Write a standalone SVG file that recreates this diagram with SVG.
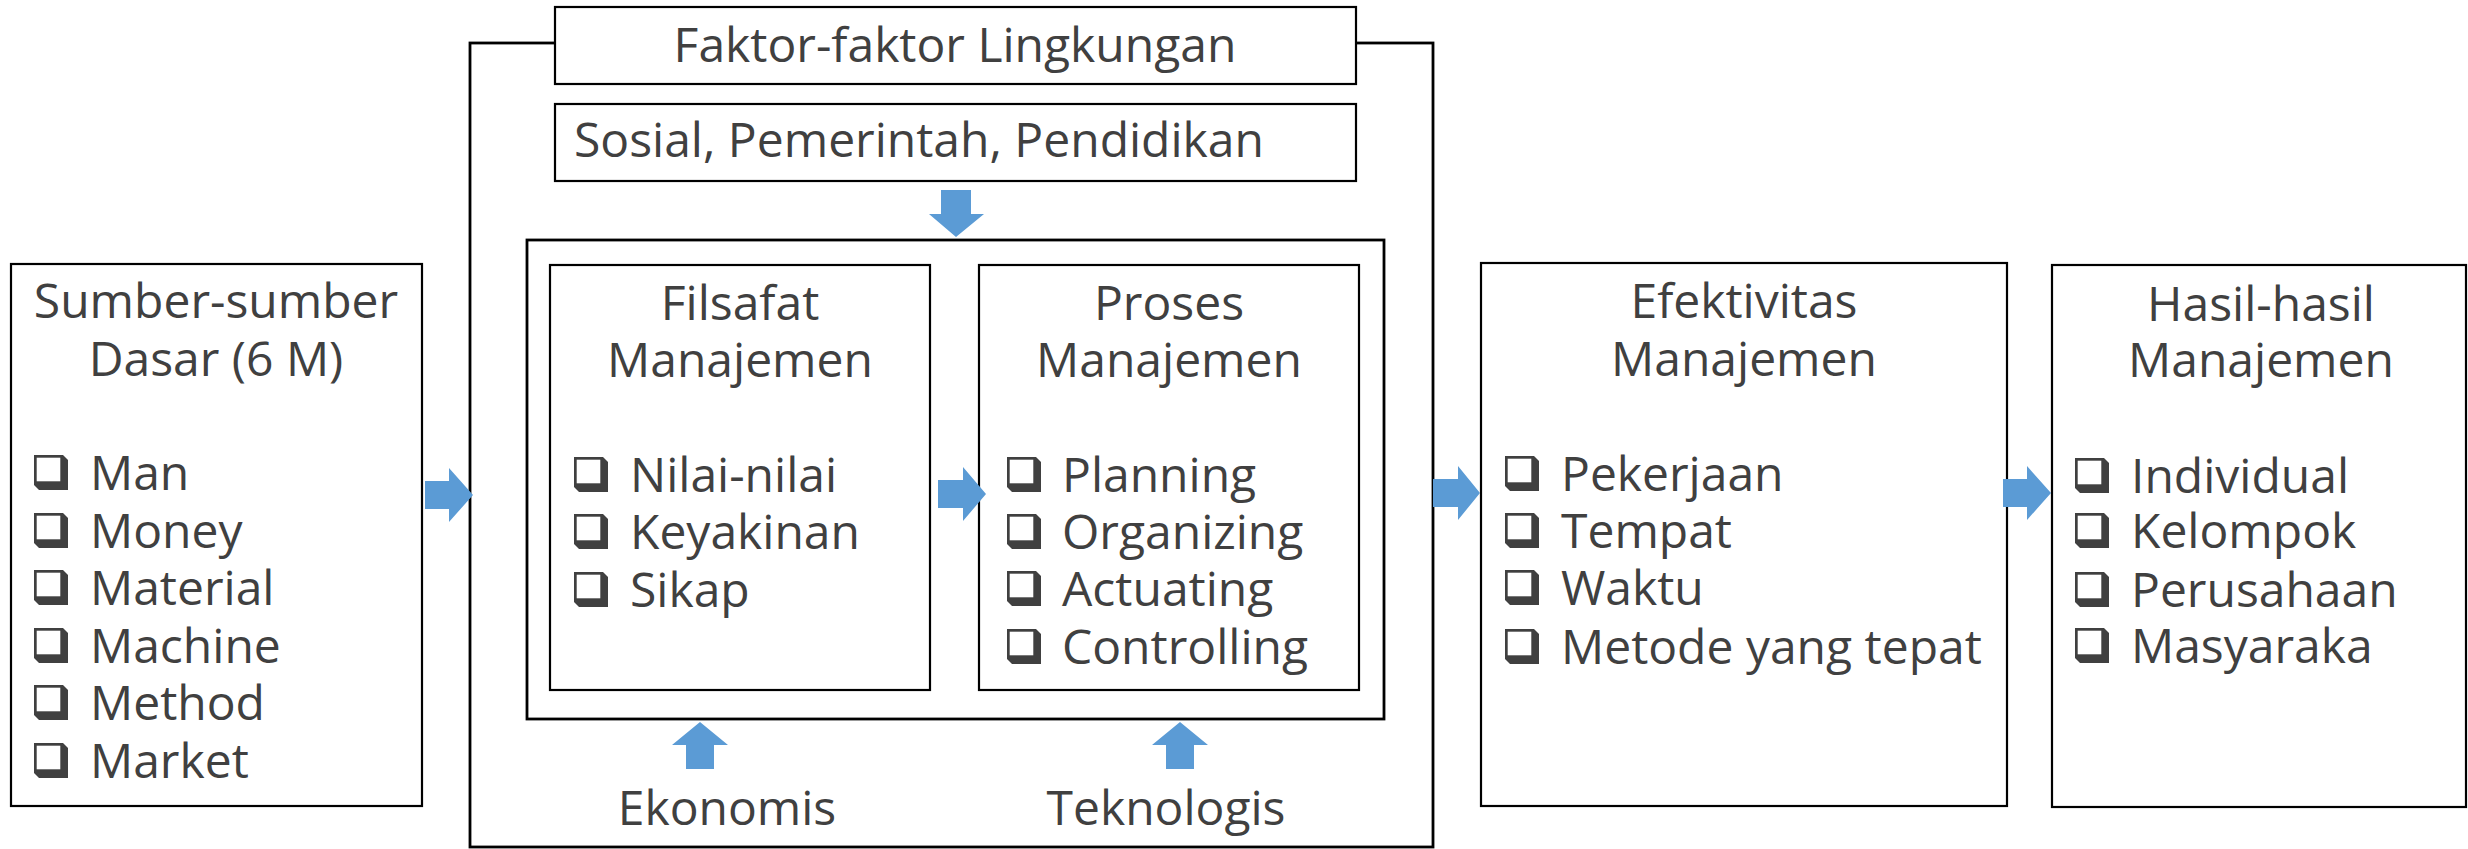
<svg xmlns="http://www.w3.org/2000/svg" xmlns:xlink="http://www.w3.org/1999/xlink" width="2468" height="849" viewBox="0 0 2468 849">
<style>
.box{fill:#fff;stroke:#000;stroke-width:2.2}
.frame{fill:none;stroke:#000;stroke-width:2.8}
.t{font-family:"Open Sans","Noto Sans","Liberation Sans",sans-serif;font-size:48px;fill:#404040}
.c{text-anchor:middle}
.arr{fill:#5B9BD5}
</style>
<defs>
<symbol id="cb" viewBox="0 0 34 35" width="34" height="35">
<path d="M0,0 H29 L34,5 V35 H5 L0,30 Z" fill="#404040"/>
<rect x="2.7" y="2.7" width="23.6" height="23.6" fill="#fff"/>
</symbol>
</defs>
<rect width="2468" height="849" fill="#fff"/>

<g id="frame-lingkungan">
<rect class="frame" x="470" y="43" width="963" height="804"/>
</g>

<g id="sumber">
<rect class="box" x="11" y="264" width="411" height="542"/>
<text class="t c" x="216" y="318">Sumber-sumber</text>
<text class="t c" x="216" y="376">Dasar (6 M)</text>
<use xlink:href="#cb" x="34" y="455"/><text class="t" x="90" y="490">Man</text>
<use xlink:href="#cb" x="34" y="513"/><text class="t" x="90" y="548">Money</text>
<use xlink:href="#cb" x="34" y="570"/><text class="t" x="90" y="605">Material</text>
<use xlink:href="#cb" x="34" y="628"/><text class="t" x="90" y="663">Machine</text>
<use xlink:href="#cb" x="34" y="685"/><text class="t" x="90" y="720">Method</text>
<use xlink:href="#cb" x="34" y="743"/><text class="t" x="90" y="778">Market</text>
</g>

<g id="faktor">
<rect class="box" x="555" y="7" width="801" height="77"/>
<text class="t c" x="955" y="62">Faktor-faktor Lingkungan</text>
</g>

<g id="sosial">
<rect class="box" x="555" y="104" width="801" height="77"/>
<text class="t" x="574" y="157">Sosial, Pemerintah, Pendidikan</text>
</g>

<g id="inner-frame">
<rect class="frame" x="527" y="240" width="857" height="479"/>
</g>

<g id="filsafat">
<rect class="box" x="550" y="265" width="380" height="425"/>
<text class="t c" x="740" y="320">Filsafat</text>
<text class="t c" x="740" y="377">Manajemen</text>
<use xlink:href="#cb" x="574" y="457"/><text class="t" x="630" y="492">Nilai-nilai</text>
<use xlink:href="#cb" x="574" y="514"/><text class="t" x="630" y="549">Keyakinan</text>
<use xlink:href="#cb" x="574" y="572"/><text class="t" x="630" y="607">Sikap</text>
</g>

<g id="proses">
<rect class="box" x="979" y="265" width="380" height="425"/>
<text class="t c" x="1169" y="320">Proses</text>
<text class="t c" x="1169" y="377">Manajemen</text>
<use xlink:href="#cb" x="1007" y="457"/><text class="t" x="1062" y="492">Planning</text>
<use xlink:href="#cb" x="1007" y="514"/><text class="t" x="1062" y="549">Organizing</text>
<use xlink:href="#cb" x="1007" y="571"/><text class="t" x="1062" y="606">Actuating</text>
<use xlink:href="#cb" x="1007" y="629"/><text class="t" x="1062" y="664">Controlling</text>
</g>

<g id="ekonomis">
<text class="t c" x="727" y="825">Ekonomis</text>
</g>
<g id="teknologis">
<text class="t c" x="1166" y="825">Teknologis</text>
</g>

<g id="efektivitas">
<rect class="box" x="1481" y="263" width="526" height="543"/>
<text class="t c" x="1744" y="318">Efektivitas</text>
<text class="t c" x="1744" y="376">Manajemen</text>
<use xlink:href="#cb" x="1505" y="456"/><text class="t" x="1561" y="491">Pekerjaan</text>
<use xlink:href="#cb" x="1505" y="513"/><text class="t" x="1561" y="548">Tempat</text>
<use xlink:href="#cb" x="1505" y="570"/><text class="t" x="1561" y="605">Waktu</text>
<use xlink:href="#cb" x="1505" y="629"/><text class="t" x="1561" y="664">Metode yang tepat</text>
</g>

<g id="hasil">
<rect class="box" x="2052" y="265" width="414" height="542"/>
<text class="t c" x="2261" y="321">Hasil-hasil</text>
<text class="t c" x="2261" y="377">Manajemen</text>
<use xlink:href="#cb" x="2075" y="458"/><text class="t" x="2131" y="493">Individual</text>
<use xlink:href="#cb" x="2075" y="513"/><text class="t" x="2131" y="548">Kelompok</text>
<use xlink:href="#cb" x="2075" y="572"/><text class="t" x="2131" y="607">Perusahaan</text>
<use xlink:href="#cb" x="2075" y="628"/><text class="t" x="2131" y="663">Masyaraka</text>
</g>

<g id="connectors">
<polygon class="arr" points="425,481 449,481 449,468 473,495 449,522 449,509 425,509"/>
<polygon class="arr" points="938,480 963,480 963,467 986,494 963,521 963,508 938,508"/>
<polygon class="arr" points="1433,479 1458,479 1458,466 1480,493 1458,520 1458,507 1433,507"/>
<polygon class="arr" points="2003,479 2027,479 2027,466 2051,493 2027,520 2027,507 2003,507"/>
<polygon class="arr" points="941,190 971,190 971,214 984,214 956,237 929,214 941,214"/>
<polygon class="arr" points="686,769 714,769 714,745 728,745 700,722 672,745 686,745"/>
<polygon class="arr" points="1166,769 1194,769 1194,745 1208,745 1180,722 1152,745 1166,745"/>
</g>
</svg>
